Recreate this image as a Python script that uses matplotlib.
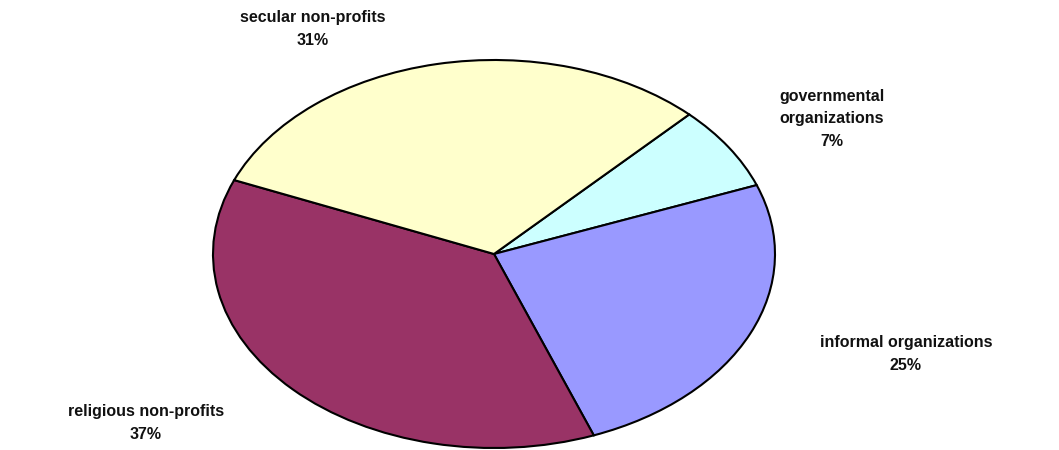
import matplotlib
matplotlib.use("Agg")
import matplotlib.pyplot as plt

# slices, clockwise from the upper right
categories = ["governmental\norganizations", "informal organizations",
              "religious non-profits", "secular non-profits"]
shares = [7, 25, 37, 31]
colors = ["#CCFFFF", "#9999FF", "#993366", "#FFFFCC"]

# label block centres in figure pixels (x, y from top)
label_pos = [(832, 119), (906, 354), (146, 423), (313, 29)]

plt.rcParams['font.family'] = ['Liberation Sans', 'DejaVu Sans']

W, H = 1059, 450
fig = plt.figure(figsize=(W / 100, H / 100), dpi=100)

# pie is drawn as an ellipse: stretch the axes, no equal aspect
left, right, top, bottom = 213, 775, 60, 448
ax = fig.add_axes([left / W, (H - bottom) / H, (right - left) / W, (bottom - top) / H])
ax.pie(shares, colors=colors, startangle=46, counterclock=False, radius=1,
       wedgeprops=dict(edgecolor="black", linewidth=1.5))
ax.set_aspect('auto')
ax.set_xlim(-1, 1)
ax.set_ylim(-1, 1)
ax.axis('off')

for name, val, (x, y) in zip(categories, shares, label_pos):
    fig.text(x / W, 1 - y / H, f"{name}\n{val}%", ha='center', va='center',
             fontsize=11.5, fontweight='bold', linespacing=1.6,
             color="#111111")

fig.savefig("out.png", dpi=100, facecolor="white")
